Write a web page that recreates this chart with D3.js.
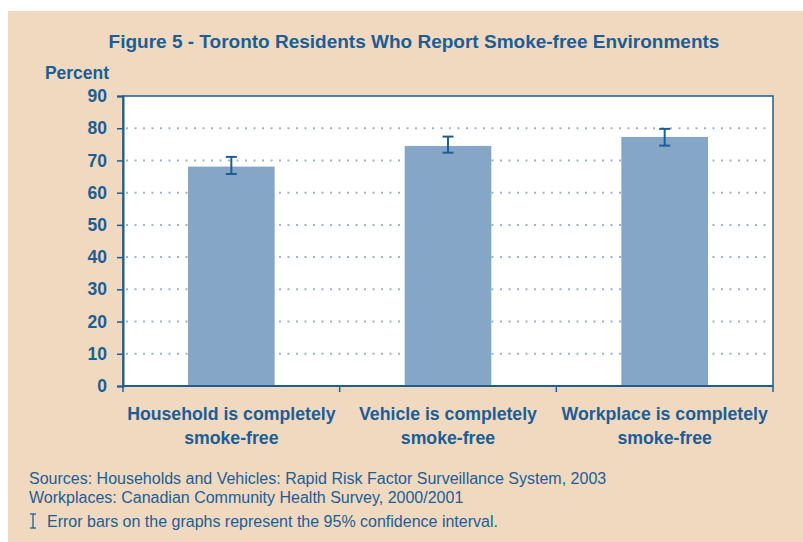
<!DOCTYPE html>
<html><head><meta charset="utf-8">
<script src="https://cdn.jsdelivr.net/npm/d3@7"></script>
<style>body{margin:0;background:#fff}svg{display:block}</style>
</head><body>
<svg id="c" width="803" height="542"></svg>
<script>
const categories = [["Household is completely","smoke-free"],["Vehicle is completely","smoke-free"],["Workplace is completely","smoke-free"]];
const values = [68.1, 74.5, 77.3];
const lower = [65.8, 72.4, 74.6];
const upper = [71.1, 77.4, 79.8];
const yTicks = [0,10,20,30,40,50,60,70,80,90];
const title = "Figure 5 - Toronto Residents Who Report Smoke-free Environments";
const yLabel = "Percent";
const notes = ["Sources: Households and Vehicles: Rapid Risk Factor Surveillance System, 2003",
               "Workplaces: Canadian Community Health Survey, 2000/2001",
               "Error bars on the graphs represent the 95% confidence interval."];

const blue = "#1b5e96", barCol = "#86a6c8", bg = "#f0d9bf", grid = "#9db3cf";
const font = "'Liberation Sans', Arial, sans-serif";
const svg = d3.select("#c");
svg.append("rect").attr("x",8).attr("y",11).attr("width",795).attr("height",531).attr("fill",bg);

const L=123, R=773, T=96, B=386;
const x = d3.scaleBand().domain(d3.range(categories.length)).range([L,R]).paddingInner(0.6).paddingOuter(0.3);
const y = d3.scaleLinear().domain([0,90]).range([B,T]);

svg.append("rect").attr("x",L).attr("y",T).attr("width",R-L).attr("height",B-T).attr("fill","#fff").attr("stroke",blue).attr("stroke-width",1.5);

// grid
svg.append("g").selectAll("line").data(yTicks.filter(d=>d>0&&d<90)).join("line")
  .attr("x1",L+3).attr("x2",R-2).attr("y1",d=>y(d)).attr("y2",d=>y(d))
  .attr("stroke",grid).attr("stroke-width",2).attr("stroke-dasharray","2,6.5");

// bars
svg.append("g").selectAll("rect").data(values).join("rect")
  .attr("x",(d,i)=>x(i)).attr("width",x.bandwidth()).attr("y",d=>y(d)).attr("height",d=>B-y(d)).attr("fill",barCol);

// error bars
const eb = svg.append("g").attr("stroke",blue).attr("stroke-width",2);
values.forEach((v,i)=>{
  const cx = x(i)+x.bandwidth()/2;
  eb.append("line").attr("x1",cx).attr("x2",cx).attr("y1",y(upper[i])).attr("y2",y(lower[i]));
  eb.append("line").attr("x1",cx-5.5).attr("x2",cx+5.5).attr("y1",y(upper[i])).attr("y2",y(upper[i]));
  eb.append("line").attr("x1",cx-5.5).attr("x2",cx+5.5).attr("y1",y(lower[i])).attr("y2",y(lower[i]));
});

// y axis
const ya = svg.append("g").attr("transform",`translate(${L},0)`)
  .call(d3.axisLeft(y).tickValues(yTicks).tickSize(6).tickPadding(10));
ya.select(".domain").attr("stroke",blue).attr("stroke-width",2);
ya.selectAll(".tick line").attr("stroke",blue).attr("stroke-width",1.5);
ya.selectAll(".tick text").attr("fill",blue).attr("font-family",font).attr("font-weight","bold").attr("font-size",17.5);

// x axis
const bounds = d3.range(categories.length+1).map(i=>L+i*(R-L)/categories.length);
const xa = svg.append("g").attr("transform",`translate(0,${B})`);
xa.append("line").attr("x1",L).attr("x2",R).attr("stroke",blue).attr("stroke-width",2);
xa.selectAll(".bt").data(bounds).join("line").attr("class","bt")
  .attr("x1",d=>d).attr("x2",d=>d).attr("y1",0).attr("y2",6).attr("stroke",blue).attr("stroke-width",1.5);
const xl = svg.append("g").selectAll("text").data(categories).join("text")
  .attr("x",(d,i)=>x(i)+x.bandwidth()/2).attr("y",420).attr("text-anchor","middle")
  .attr("fill",blue).attr("font-family",font).attr("font-weight","bold").attr("font-size",17.7);
xl.each(function(d){
  const t=d3.select(this);
  d.forEach((s,j)=>t.append("tspan").attr("x",t.attr("x")).attr("dy",j?24:0).text(s));
});

// title and labels
svg.append("text").attr("x",414).attr("y",48).attr("text-anchor","middle").attr("fill",blue)
  .attr("font-family",font).attr("font-weight","bold").attr("font-size",19).text(title);
svg.append("text").attr("x",77).attr("y",79).attr("text-anchor","middle").attr("fill",blue)
  .attr("font-family",font).attr("font-weight","bold").attr("font-size",17.5).text(yLabel);

// notes
const ny=[484,503,527];
notes.forEach((n,i)=>{
  svg.append("text").attr("x",i==2?47:29).attr("y",ny[i]).attr("fill",blue)
    .attr("font-family",font).attr("font-size",16).text(n);
});
// error bar legend icon
const ig = svg.append("g").attr("stroke",blue).attr("stroke-width",1.3);
ig.append("line").attr("x1",33).attr("x2",33).attr("y1",514).attr("y2",528);
ig.append("line").attr("x1",30).attr("x2",36).attr("y1",514).attr("y2",514);
ig.append("line").attr("x1",30).attr("x2",36).attr("y1",528).attr("y2",528);
</script>
</body></html>
